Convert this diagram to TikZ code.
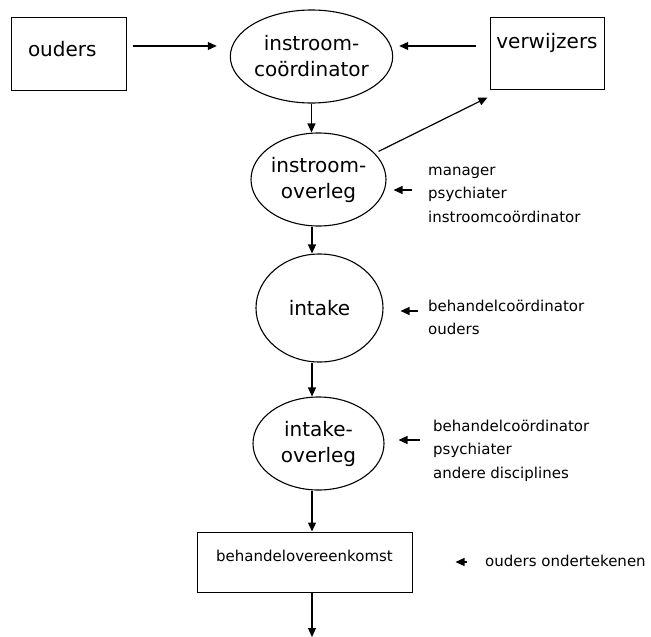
\documentclass[tikz,border=0pt]{standalone}
\usepackage{fontspec}
\setmainfont{DejaVu Sans}
\usetikzlibrary{shapes.geometric}
\usetikzlibrary{arrows.meta}

\tikzset{
  box/.style={draw, line width=1pt, inner sep=0pt},
  oval/.style={draw, ellipse, line width=1.1pt, inner sep=0pt, align=center,
    font=\fontsize{20}{26}\selectfont, minimum width=131pt, minimum height=93pt},
  team/.style={anchor=base west, align=left, inner sep=0pt,
    font=\fontsize{15}{23.5}\selectfont},
  arr/.style={-{Triangle[length=9pt,width=8pt]}, line width=1.2pt}
}

\begin{document}
\begin{tikzpicture}[x=1pt,y=-1pt]
    \useasboundingbox (0,0) rectangle (651,637);
    % bronnen
    \node[box, anchor=base, font=\fontsize{20}{24}\selectfont, text height=39.5pt,
      text depth=33.5pt, text width=81pt, inner xsep=17pt, align=left] (ouders) at (68.5,56.5) {ouders};
    \node[box, anchor=base, font=\fontsize{20}{24}\selectfont, text height=31.5pt,
      text depth=40.5pt, minimum width=114pt] (verw) at (547,48.5) {verwijzers};
    % stappen
    \node[oval] (ic) at (311.5,56.5) {instroom-\\coördinator};
    \node[oval] (io) at (318.5,179.5) {instroom-\\overleg};
    \node[oval, minimum width=127pt, minimum height=108pt] (in) at (319.5,308) {intake};
    \node[oval] (ov) at (318.5,443.5) {intake-\\overleg};
    \node[box, anchor=base, font=\fontsize{15}{18}\selectfont, text height=29pt,
      text depth=31pt, minimum width=215pt] (bo) at (304.5,561) {behandelovereenkomst};
    % betrokkenen (base = laatste regel)
    \node[team] (ioteam) at (428,222) {manager\\psychiater\\instroomcoördinator};
    \node[team] (inteam) at (428,334.5) {behandelcoördinator\\ouders};
    \node[team] (ovteam) at (433,478) {behandelcoördinator\\psychiater\\andere disciplines};
    \node[team] (boteam) at (485,566) {ouders ondertekenen};
    \coordinate (spine) at (312,0);
    \coordinate (end) at (312,637);
    % pijlen
    \draw[arr] ([shift={(6pt,7.5pt)}]ouders.east) -- ([shift={(-13pt,10.5pt)}]ic.west);
    \draw[arr] ([shift={(-14pt,7pt)}]verw.west) -- ([shift={(6pt,10.5pt)}]ic.east);
    \draw[arr] (ic.south) -- (ic.south |- io.north);
    \draw[arr, shorten <=4pt] (io.25) -- ([shift={(-2pt,-8pt)}]verw.south west);
    \draw[arr] (io.south -| spine) -- (in.north -| spine);
    \draw[arr] (in.south -| spine) -- (ov.north -| spine);
    \draw[arr] (ov.south -| spine) -- (bo.north -| spine);
    \draw[arr] (bo.south -| spine) -- (end);
    \draw[arr] ([shift={(-16pt,32pt)}]ioteam.base west) -- ([shift={(7pt,-10.5pt)}]io.east);
    \draw[arr] ([shift={(-10pt,23.5pt)}]inteam.base west) -- ([shift={(17pt,-3pt)}]in.east);
    \draw[arr] ([shift={(-13pt,38pt)}]ovteam.base west) -- ([shift={(14pt,3.5pt)}]ov.east);
    \draw[arr] ([shift={(-18pt,4pt)}]boteam.base west) -- ([xshift=43pt]bo.east);
\end{tikzpicture}
\end{document}
